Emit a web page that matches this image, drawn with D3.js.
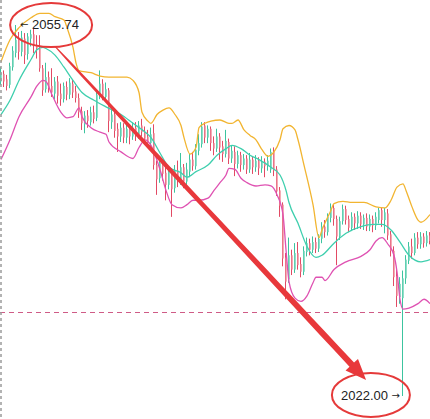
<!DOCTYPE html>
<html><head><meta charset="utf-8">
<script src="https://cdn.jsdelivr.net/npm/d3@7/dist/d3.min.js"></script>
<style>html,body{margin:0;padding:0;background:#fff;overflow:hidden}</style>
</head><body>
<svg id="chart" width="430" height="419"></svg>
<script>
// ---- candle data (price) ----
const opens = [2050.6,2051.3,2050.8,2050.3,2051.9,2053.2,2054.5,2053.3,2054.5,2053.1,2054.5,2054.9,2053.9,2053.6,2051.8,2049.9,2051.0,2050.2,2049.5,2050.6,
2049.5,2049.0,2050.1,2049.4,2050.4,2049.7,2049.1,2047.9,2046.7,2047.5,2046.9,2047.8,2047.3,2049.3,2050.4,2049.2,2049.8,2046.9,2047.6,2046.3,
2045.6,2046.4,2045.5,2046.3,2045.6,2046.4,2045.8,2046.6,2046.0,2045.6,2045.0,2045.9,2043.0,2041.8,2043.1,2042.3,2041.2,2042.4,2040.9,2042.5,
2041.6,2042.8,2041.5,2042.4,2043.5,2042.9,2044.3,2044.9,2046.6,2045.5,2046.3,2045.0,2044.5,2045.6,2044.7,2044.0,2045.1,2043.6,2044.2,2043.1,
2043.9,2043.0,2043.6,2042.6,2043.5,2042.8,2043.4,2042.7,2043.3,2042.9,2042.6,2044.2,2042.6,2040.7,2039.4,2034.6,2032.6,2034.8,2033.5,2035.0,
2034.0,2033.3,2035.1,2035.9,2035.3,2036.0,2035.4,2036.3,2037.4,2036.9,2038.2,2039.1,2038.1,2036.5,2037.9,2039.0,2038.1,2037.3,2038.3,2037.7,
2038.4,2037.6,2038.2,2037.4,2038.1,2037.5,2038.0,2038.9,2038.0,2038.6,2036.7,2035.2,2032.9,2031.0,2030.9,2032.7,2034.3,2035.6,2035.0,2036.4,
2035.8,2036.5,2035.9,2036.6];
const highs = [2051.9,2051.6,2051.2,2052.3,2053.8,2055.74,2055.1,2055.2,2055.0,2055.0,2055.3,2055.4,2054.8,2054.8,2052.1,2052.3,2051.5,2051.8,2051.0,2051.1,
2050.4,2050.5,2050.6,2050.9,2050.8,2050.2,2049.5,2048.3,2047.9,2048.0,2048.3,2048.4,2049.8,2051.6,2050.8,2050.5,2050.0,2048.0,2047.9,2046.8,
2046.9,2046.8,2046.8,2046.6,2046.9,2046.9,2047.0,2047.2,2046.5,2046.2,2046.4,2046.7,2043.4,2043.6,2043.5,2042.9,2042.8,2042.7,2043.0,2043.4,
2044.1,2043.1,2043.2,2044.0,2044.2,2044.9,2045.8,2046.9,2046.9,2046.6,2046.5,2045.6,2046.3,2045.9,2045.2,2046.2,2045.4,2044.8,2044.7,2044.3,
2044.2,2044.0,2043.9,2044.1,2043.8,2043.9,2043.7,2043.8,2043.6,2043.9,2044.5,2044.6,2042.9,2041.0,2039.6,2035.0,2036.4,2035.3,2035.9,2036.0,
2034.6,2035.6,2036.4,2036.3,2036.5,2036.4,2036.7,2037.8,2038.0,2038.6,2039.5,2039.4,2038.4,2038.3,2039.4,2039.3,2038.4,2038.7,2038.6,2038.8,
2038.7,2038.5,2038.6,2038.5,2038.4,2038.7,2039.1,2039.1,2039.1,2039.0,2037.0,2035.6,2033.5,2032.8,2033.4,2034.8,2036.0,2036.3,2036.8,2036.9,
2036.9,2036.8,2037.0,2036.9];
const lows = [2050.3,2050.1,2049.8,2050.0,2051.6,2052.8,2052.6,2052.9,2052.2,2052.6,2053.8,2053.2,2052.7,2051.5,2049.3,2049.6,2049.6,2049.2,2049.0,2048.6,
2048.4,2048.7,2048.9,2049.0,2049.1,2048.7,2047.3,2046.2,2045.9,2046.4,2046.6,2046.8,2047.0,2049.0,2048.9,2048.8,2046.0,2046.3,2045.5,2044.2,
2045.1,2045.0,2045.0,2044.9,2045.3,2045.2,2045.4,2045.6,2044.9,2044.6,2044.7,2042.6,2040.3,2041.4,2041.6,2039.8,2040.8,2038.3,2040.5,2041.0,
2041.2,2040.9,2041.1,2041.9,2042.5,2042.6,2043.9,2044.6,2045.0,2045.0,2044.3,2043.9,2044.2,2043.5,2043.3,2043.7,2043.1,2043.2,2042.0,2042.7,
2042.4,2042.6,2042.2,2042.3,2042.2,2042.4,2042.1,2042.3,2041.9,2042.5,2042.3,2042.0,2040.2,2038.3,2033.8,2030.8,2032.3,2033.0,2033.2,2033.5,
2032.8,2033.0,2034.7,2034.8,2035.0,2035.0,2035.1,2035.9,2036.4,2036.6,2037.8,2037.5,2033.9,2036.2,2037.6,2037.6,2036.9,2037.0,2037.1,2037.2,
2037.2,2037.1,2037.0,2037.0,2036.9,2037.1,2037.7,2037.4,2036.8,2036.2,2034.7,2032.0,2030.1,2030.4,2022.0,2032.2,2034.0,2034.5,2034.8,2035.4,
2035.4,2035.5,2035.6,2035.8];
const closes = [2051.4,2050.6,2050.2,2052.0,2053.4,2054.4,2053.3,2054.6,2053.0,2054.7,2054.9,2053.9,2053.6,2051.8,2049.8,2051.0,2050.0,2049.6,2050.6,2049.3,
2049.0,2050.2,2049.4,2050.5,2049.6,2049.1,2047.8,2046.8,2047.5,2047.0,2047.8,2047.2,2049.4,2050.4,2049.3,2049.9,2047.0,2047.6,2046.1,2045.6,
2046.4,2045.5,2046.3,2045.6,2046.4,2045.8,2046.6,2046.0,2045.4,2045.0,2045.8,2043.0,2041.7,2043.2,2042.2,2041.2,2042.4,2040.8,2042.5,2041.6,
2042.8,2041.5,2042.6,2043.5,2042.9,2044.4,2045.0,2046.5,2045.5,2046.3,2045.0,2044.5,2045.6,2044.6,2044.0,2045.2,2043.6,2044.3,2043.1,2043.9,
2043.0,2043.6,2042.6,2043.5,2042.8,2043.4,2042.7,2043.3,2042.9,2043.4,2044.2,2042.5,2040.6,2039.3,2034.5,2032.4,2034.8,2033.5,2035.0,2033.9,
2033.3,2035.2,2035.9,2035.3,2036.0,2035.4,2036.3,2037.4,2036.9,2038.3,2039.1,2038.1,2036.5,2037.9,2039.0,2038.0,2037.3,2038.3,2037.7,2038.4,
2037.6,2038.2,2037.4,2038.1,2037.5,2038.3,2038.9,2038.0,2038.7,2036.6,2035.2,2032.8,2031.1,2032.2,2032.7,2034.4,2035.6,2035.0,2036.4,2035.8,
2036.5,2035.9,2036.6,2036.1];

// ---- Bollinger bands: [candle index, price] ----
const upperBand = [[0,2052.4],[3,2054.4],[6,2055.5],[10,2056.4],[13,2056.8],[16,2056.8],[18,2056.5],[21,2056.2],[22,2055.5],[24,2053.7],[25,2052.3],
[26,2051.6],[30,2051.4],[33,2051.1],[36,2051.0],[42,2051.0],[44,2050.7],[46,2049.6],[47,2047.8],[49,2047.0],[50,2046.8],[52,2047.6],[54,2048.0],
[56,2048.2],[58,2047.6],[60,2046.6],[61,2045.5],[63,2044.0],[65,2044.6],[66,2046.4],[68,2046.8],[70,2047.0],[73,2047.1],[76,2046.8],[77,2046.8],
[79,2047.1],[81,2046.2],[83,2045.7],[85,2045.3],[87,2044.4],[89,2043.8],[91,2044.2],[93,2045.3],[94,2046.3],[96,2046.6],[98,2046.2],[99,2045.3],
[101,2043.0],[104,2039.4],[106,2036.4],[107,2037.1],[110,2038.9],[111,2039.5],[114,2039.7],[117,2039.6],[121,2039.6],[125,2039.2],[128,2039.1],
[130,2039.8],[132,2041.0],[134,2041.3],[135,2040.7],[137,2039.2],[139,2038.0],[140,2037.8],[143,2038.5]];
const middleBand = [[0,2047.6],[3,2048.9],[6,2050.7],[10,2052.6],[12,2053.5],[14,2053.7],[15,2053.6],[18,2053.0],[21,2051.9],[24,2050.7],[27,2049.6],
[31,2048.9],[35,2048.3],[40,2047.6],[44,2046.8],[48,2046.0],[50,2045.5],[53,2044.1],[56,2042.8],[60,2042.3],[62,2041.9],[65,2042.4],[69,2043.0],
[72,2043.9],[75,2044.5],[77,2044.8],[80,2044.5],[83,2043.9],[86,2043.5],[90,2042.8],[93,2042.1],[95,2040.7],[96,2039.6],[99,2037.7],[102,2035.6],
[105,2034.6],[107,2034.8],[111,2035.9],[115,2036.8],[120,2037.4],[124,2037.6],[127,2037.6],[130,2037.1],[133,2036.0],[136,2034.8],[140,2034.2],[143,2034.4]];
const lowerBand = [[0,2043.5],[3,2045.3],[6,2047.4],[10,2049.2],[12,2050.2],[14,2050.7],[15,2050.6],[17,2049.4],[20,2047.8],[22,2047.3],[24,2047.4],
[26,2048.2],[27,2047.4],[30,2046.4],[33,2046.0],[35,2045.8],[36,2045.1],[40,2044.2],[44,2043.6],[46,2044.6],[48,2045.3],[50,2044.8],[53,2042.6],
[55,2040.7],[57,2039.4],[60,2039.1],[62,2039.4],[64,2039.8],[66,2039.8],[69,2040.0],[71,2040.7],[73,2041.4],[75,2042.1],[76,2042.7],[78,2042.6],
[80,2041.8],[82,2041.4],[85,2041.1],[88,2041.2],[90,2041.1],[92,2040.3],[94,2038.5],[95,2035.3],[96,2032.4],[98,2030.9],[100,2030.6],[102,2031.1],
[104,2032.3],[105,2032.8],[107,2032.8],[108,2032.5],[111,2033.5],[115,2034.2],[120,2034.7],[123,2035.3],[125,2036.1],[127,2036.4],[129,2035.8],
[131,2034.8],[132,2033.3],[133,2030.8],[134,2029.9],[136,2030.0],[139,2030.4],[141,2030.8],[143,2030.4]];

// ---- annotations ----
const highPrice = 2055.74, highIndex = 5, highText = "2055.74";
const lowPrice = 2022.00, lowIndex = 134, lowText = "2022.00";
const refLevel = 2029.65;
const arrowFrom = [18, 2053.8], arrowTo = [121.7, 2023.45];
const ellipseTop = [16.7, 2055.74], ellipseBottom = [123.3, 2022.1];

const svg = d3.select("#chart");
const x = d3.scaleLinear().domain([0, 143]).range([1, 430]);
const y = d3.scaleLinear().domain([lowPrice, highPrice]).range([396, 25]);

const candles = opens.map((o, i) => ({i, o, h: highs[i], l: lows[i], c: closes[i]}));
const bull = {wick: "#3cc49f", body: "#86dcc3"};
const bear = {wick: "#e24a64", body: "#f4a2ad"};

const g = svg.append("g");
g.selectAll("line.wick").data(candles).join("line")
  .attr("x1", d => Math.round(x(d.i)) - 0.5).attr("x2", d => Math.round(x(d.i)) - 0.5)
  .attr("y1", d => y(d.h)).attr("y2", d => y(d.l))
  .attr("stroke", d => d.c >= d.o ? bull.wick : bear.wick).attr("stroke-width", 1);
g.selectAll("rect.body").data(candles).join("rect")
  .attr("x", d => Math.round(x(d.i)) - 1).attr("width", 2)
  .attr("y", d => y(Math.max(d.o, d.c)))
  .attr("height", d => Math.max(1, Math.abs(y(d.o) - y(d.c))))
  .attr("fill", d => d.c >= d.o ? bull.body : bear.body).attr("opacity", 0.9);
// re-draw wick inside body slightly darker for visibility
g.selectAll("line.w2").data(candles).join("line")
  .attr("x1", d => Math.round(x(d.i)) - 0.5).attr("x2", d => Math.round(x(d.i)) - 0.5)
  .attr("y1", d => y(d.h)).attr("y2", d => y(d.l))
  .attr("stroke", d => d.c >= d.o ? bull.wick : bear.wick).attr("stroke-width", 1).attr("opacity", 0.45);

const line = d3.line().x(d => x(d[0])).y(d => y(d[1])).curve(d3.curveMonotoneX);
svg.append("path").attr("d", line(upperBand)).attr("fill", "none").attr("stroke", "#f2b531").attr("stroke-width", 1.3);
svg.append("path").attr("d", line(middleBand)).attr("fill", "none").attr("stroke", "#3fcfae").attr("stroke-width", 1.3);
svg.append("path").attr("d", line(lowerBand)).attr("fill", "none").attr("stroke", "#df52b2").attr("stroke-width", 1.3);

// reference dashed line
svg.append("line").attr("x1", 0).attr("x2", 430)
  .attr("y1", Math.round(y(refLevel)) + 0.5).attr("y2", Math.round(y(refLevel)) + 0.5)
  .attr("stroke", "#cf5b86").attr("stroke-width", 1).attr("stroke-dasharray", "5,4");
// left dashed border
svg.append("line").attr("x1", 1).attr("x2", 1).attr("y1", 0).attr("y2", 419)
  .attr("stroke", "#9a9a9a").attr("stroke-width", 1.5).attr("stroke-dasharray", "3,3");

// tapered red arrow
(function () {
  const x0 = x(arrowFrom[0]), y0 = y(arrowFrom[1]);
  const x1 = x(arrowTo[0]), y1 = y(arrowTo[1]);
  const dx = x1 - x0, dy = y1 - y0, len = Math.hypot(dx, dy);
  const ux = dx / len, uy = dy / len, nx = -uy, ny = ux;
  const headLen = 21, headHalf = 8.5;
  const shaftLen = len - headLen;
  const left = [], right = [];
  for (let k = 0; k <= 20; k++) {
    const t = k / 20;
    const hw = 0.5 + 2.6 * Math.sqrt(t);
    const px = x0 + ux * shaftLen * t, py = y0 + uy * shaftLen * t;
    left.push([px + nx * hw, py + ny * hw]);
    right.push([px - nx * hw, py - ny * hw]);
  }
  const bx = x0 + ux * shaftLen, by = y0 + uy * shaftLen;
  const pts = left.concat([[bx + nx * headHalf, by + ny * headHalf], [x1, y1], [bx - nx * headHalf, by - ny * headHalf]])
    .concat(right.reverse());
  svg.append("path").attr("d", "M" + pts.map(p => p.join(",")).join("L") + "Z").attr("fill", "#e8383b");
})();

// ellipses
svg.append("ellipse").attr("cx", x(ellipseTop[0])).attr("cy", y(ellipseTop[1])).attr("rx", 41).attr("ry", 22)
  .attr("fill", "none").attr("stroke", "#e53a3a").attr("stroke-width", 2);
svg.append("ellipse").attr("cx", x(ellipseBottom[0])).attr("cy", y(ellipseBottom[1])).attr("rx", 39).attr("ry", 22)
  .attr("fill", "none").attr("stroke", "#e53a3a").attr("stroke-width", 2);

// labels
const font = "'Liberation Sans', Arial, 'DejaVu Sans', sans-serif";
svg.append("text").attr("x", x(highIndex) + 4).attr("y", y(highPrice) + 3)
  .attr("font-family", "'DejaVu Sans', sans-serif").attr("font-size", 10).attr("fill", "#222").text("←");
svg.append("text").attr("x", x(highIndex) + 16).attr("y", y(highPrice) + 4)
  .attr("font-family", font).attr("font-size", 13).attr("fill", "#222").text(highText);
svg.append("text").attr("x", x(lowIndex) - 15).attr("y", y(lowPrice) + 4)
  .attr("text-anchor", "end").attr("font-family", font).attr("font-size", 13).attr("fill", "#222").text(lowText);
svg.append("text").attr("x", x(lowIndex) - 3).attr("y", y(lowPrice) + 3)
  .attr("text-anchor", "end").attr("font-family", "'DejaVu Sans', sans-serif").attr("font-size", 10).attr("fill", "#222").text("→");
</script>
</body></html>
